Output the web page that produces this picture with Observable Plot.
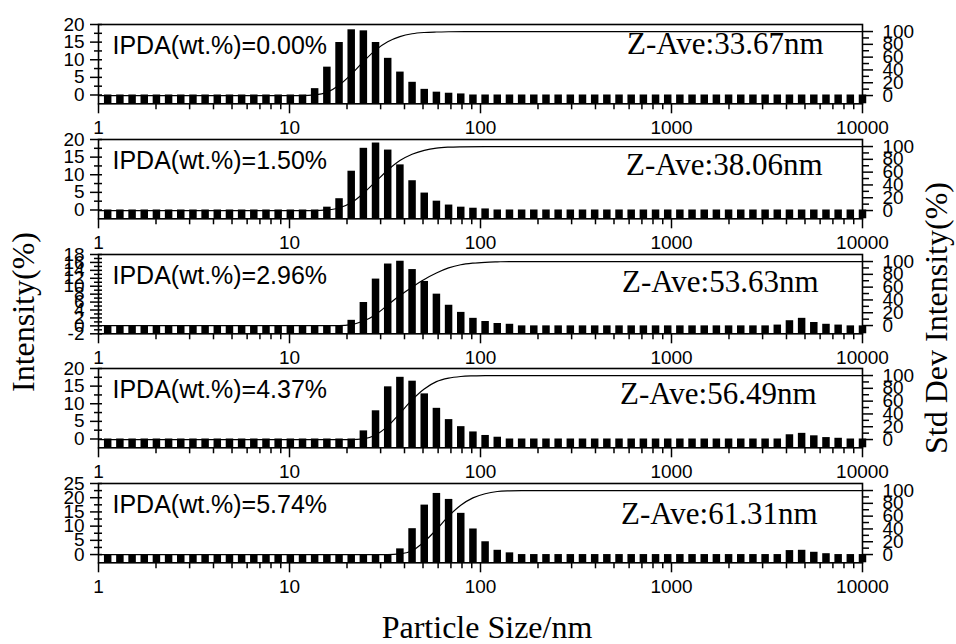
<!DOCTYPE html>
<html>
<head>
<meta charset="utf-8">
<script src="https://cdn.jsdelivr.net/npm/d3@7"></script>
<script src="https://cdn.jsdelivr.net/npm/@observablehq/plot@0.6"></script>
<style>
  body { margin: 0; background: #fff; }
  #chart { position: relative; width: 956px; height: 644px; background: #fff; overflow: hidden; }
  #chart svg { position: absolute; left: 0; }
</style>
</head>
<body>
<div id="chart"></div>
<script>
// Size classes (nm) of the DLS intensity distribution
const sizes = [
  1.117, 1.294, 1.499, 1.736, 2.010, 2.328, 2.696, 3.122, 3.615, 4.187, 4.849, 5.615, 6.503, 7.531, 8.721, 10.10,
  11.70, 13.54, 15.69, 18.17, 21.04, 24.36, 28.21, 32.67, 37.84, 43.82, 50.75, 58.77, 68.06, 78.82, 91.28, 105.7,
  122.4, 141.8, 164.2, 190.1, 220.2, 255.0, 295.3, 342.0, 396.1, 458.7, 531.2, 615.1, 712.4, 825.0, 955.4, 1106,
  1281, 1484, 1718, 1990, 2305, 2669, 3091, 3580, 4145, 4801, 5560, 6439, 7456, 8635, 10000
];

const sampleLabels = ["IPDA(wt.%)=0.00%", "IPDA(wt.%)=1.50%", "IPDA(wt.%)=2.96%", "IPDA(wt.%)=4.37%", "IPDA(wt.%)=5.74%"];
const zAverages = ["Z-Ave:33.67nm", "Z-Ave:38.06nm", "Z-Ave:53.63nm", "Z-Ave:56.49nm", "Z-Ave:61.31nm"];

// Intensity (%) per size class
const intensity000 = [
  0,0,0,0,0,0,0,0,0,0,0,0,0,0,0,0,
  0,1.8,7.9,14.9,18.5,18.2,14.9,10.4,6.5,3.6,1.6,0.8,0.5,0.3,0,0,
  0,0,0,0,0,0,0,0,0,0,0,0,0,0,0,0,
  0,0,0,0,0,0,0,0,0,0,0,0,0,0,0
];
const intensity150 = [
  0,0,0,0,0,0,0,0,0,0,0,0,0,0,0,0,
  0,0,0.8,3.2,11,17.5,19,17,12.8,8.3,4.8,2.5,1.4,0.8,0.5,0.3,
  0,0,0,0,0,0,0,0,0,0,0,0,0,0,0,0,
  0,0,0,0,0,0,0,0,0,0,0,0,0,0,0
];
const intensity296 = [
  0,0,0,0,0,0,0,0,0,0,0,0,0,0,0,0,
  0,0,0,0,1.4,5.9,11.8,15.6,16.3,14.2,11.2,8.0,5.2,3.4,1.9,1.1,
  0.6,0.4,0,0,0,0,0,0,0,0,0,0,0,0,0,0,
  0,0,0,0,0,0,0,0.2,1.3,1.9,0.85,0.4,0.2,0,0
];
const intensity437 = [
  0,0,0,0,0,0,0,0,0,0,0,0,0,0,0,0,
  0,0,0,0,0,2.3,8.0,14.8,17.5,16.4,12.8,8.7,5.5,3.5,2.0,1.0,
  0.5,0,0,0,0,0,0,0,0,0,0,0,0,0,0,0,
  0,0,0,0,0,0,0,0,1.2,1.6,0.9,0.4,0.2,0,0
];
const intensity574 = [
  0,0,0,0,0,0,0,0,0,0,0,0,0,0,0,0,
  0,0,0,0,0,0,0,0,2.0,9.1,17.4,21.5,19.4,14.5,9.0,4.5,
  1.5,0.6,0,0,0,0,0,0,0,0,0,0,0,0,0,0,
  0,0,0,0,0,0,0,0,1.4,1.5,0.8,0.3,0,0,0
];

// Cumulative curves (size nm, percent) for the right axis
const cumSize000 = [1, 11.70, 13.54, 15.69, 18.17, 21.04, 24.36, 28.21, 32.67, 37.84, 43.82, 50.75, 58.77, 68.06, 91.28, 10000];
const cumPct000  = [0, 0, 1, 5, 16, 33, 53, 71, 84, 92, 96.5, 98.5, 99.3, 99.7, 100, 100];
const cumSize150 = [1, 13.54, 15.69, 18.17, 21.04, 24.36, 28.21, 32.67, 37.84, 43.82, 50.75, 58.77, 68.06, 78.82, 105.7, 10000];
const cumPct150  = [0, 0, 1, 4, 12, 27, 45, 63, 78, 88, 94, 97.5, 99, 99.6, 100, 100];
const cumSize296 = [1, 18.17, 21.04, 24.36, 28.21, 32.67, 37.84, 43.82, 50.75, 58.77, 68.06, 78.82, 91.28, 105.7, 122.4, 141.8, 10000];
const cumPct296  = [0, 0, 1.5, 7, 17, 32, 47, 60, 72, 82, 90, 95, 97.5, 98.8, 99.5, 100, 100];
const cumSize437 = [1, 21.04, 24.36, 28.21, 32.67, 37.84, 43.82, 50.75, 58.77, 68.06, 78.82, 91.28, 105.7, 10000];
const cumPct437  = [0, 0, 1, 7, 21, 41, 62, 79, 90.5, 96, 98.5, 99.5, 100, 100];
const cumSize574 = [1, 32.67, 37.84, 43.82, 50.75, 58.77, 68.06, 78.82, 91.28, 105.7, 122.4, 141.8, 164.2, 10000];
const cumPct574  = [0, 0, 1, 6, 20, 39, 60, 77, 88.5, 95, 98.5, 99.6, 100, 100];

// Axis ticks
const xMajor = [1, 10, 100, 1000, 10000];
const xMinor = [2,3,4,5,6,7,8,9, 20,30,40,50,60,70,80,90, 200,300,400,500,600,700,800,900, 2000,3000,4000,5000,6000,7000,8000,9000];
const yMajor20 = [0, 5, 10, 15, 20];
const yMinor20 = [2.5, 7.5, 12.5, 17.5];
const yMajor18 = [-2, 0, 2, 4, 6, 8, 10, 12, 14, 16, 18];
const yMinor18 = [-1, 1, 3, 5, 7, 9, 11, 13, 15, 17];
const yMajor25 = [0, 5, 10, 15, 20, 25];
const yMinor25 = [2.5, 7.5, 12.5, 17.5, 22.5];
const rightMajor = [0, 20, 40, 60, 80, 100];
const rightMinor = [10, 30, 50, 70, 90];

const panels = [
  {label: sampleLabels[0], zave: zAverages[0], values: intensity000, cumSize: cumSize000, cumPct: cumPct000, yDomain: [-2.5, 20], yMajor: yMajor20, yMinor: yMinor20},
  {label: sampleLabels[1], zave: zAverages[1], values: intensity150, cumSize: cumSize150, cumPct: cumPct150, yDomain: [-2.5, 20], yMajor: yMajor20, yMinor: yMinor20},
  {label: sampleLabels[2], zave: zAverages[2], values: intensity296, cumSize: cumSize296, cumPct: cumPct296, yDomain: [-2, 18], yMajor: yMajor18, yMinor: yMinor18},
  {label: sampleLabels[3], zave: zAverages[3], values: intensity437, cumSize: cumSize437, cumPct: cumPct437, yDomain: [-2.5, 20], yMajor: yMajor20, yMinor: yMinor20},
  {label: sampleLabels[4], zave: zAverages[4], values: intensity574, cumSize: cumSize574, cumPct: cumPct574, yDomain: [-2.9, 25], yMajor: yMajor25, yMinor: yMinor25}
];

// Layout
const PANEL_TOP0 = 24, PANEL_STEP = 114.8, PANEL_H = 79.3, MT = 8, MB = 38;
const zaveDx = [-39, -40, -44, -46, -45];
const zaveDy = [30, 36, 38, 36, 41];
const sans = "'Liberation Sans', Arial, Helvetica, sans-serif";
const serif = "'Liberation Serif', 'Times New Roman', Times, serif";
const rightDomain = [-12.9, 111];

const chart = document.getElementById("chart");

panels.forEach((p, i) => {
  const rows = sizes.map((s, k) => ({size: s, value: p.values[k]}));
  const cum = p.cumSize.map((s, k) => ({size: s, pct: p.cumPct[k]}));
  const common = {
    width: 956, height: MT + PANEL_H + MB,
    marginLeft: 98, marginRight: 94, marginTop: MT, marginBottom: MB,
    style: {background: "transparent", overflow: "visible", color: "black", fontFamily: sans}
  };
  const xScale = {type: "log", domain: [1, 10000], axis: null, label: null};
  const top = PANEL_TOP0 + i * PANEL_STEP - MT;

  const bars = Plot.plot({
    ...common,
    x: xScale,
    y: {domain: p.yDomain, axis: null, label: null},
    marks: [
      Plot.ruleX(rows, {x: "size", y1: p.yDomain[0], y2: "value", stroke: "black", strokeWidth: 7.5}),
      Plot.frame({stroke: "black", strokeWidth: 1.6}),
      Plot.axisX(xMajor, {tickSize: 10, tickPadding: 7, strokeWidth: 1.5, tickFormat: d => String(d), fontSize: 19, label: null}),
      Plot.axisX(xMinor, {tickSize: 6, strokeWidth: 1.5, tickFormat: () => "", label: null}),
      Plot.axisY(p.yMajor, {tickSize: 8, tickPadding: 6, strokeWidth: 1.5, tickFormat: d => String(d), fontSize: 19, label: null}),
      Plot.axisY(p.yMinor, {tickSize: 4, strokeWidth: 1.5, tickFormat: () => "", label: null}),
      Plot.axisY([...p.yMajor, ...p.yMinor], {tickSize: -4, strokeWidth: 1.5, tickFormat: () => "", label: null}),
      Plot.text([p.label], {text: d => d, frameAnchor: "top-left", textAnchor: "start", lineAnchor: "bottom", dx: 14, dy: 30, fontSize: 25, fill: "black"}),
      Plot.text([p.zave], {text: d => d, frameAnchor: "top-right", textAnchor: "end", lineAnchor: "bottom", dx: zaveDx[i], dy: zaveDy[i], fontSize: 31, fontFamily: serif, fill: "black"})
    ]
  });
  bars.style.top = top + "px";
  chart.appendChild(bars);

  const cumulative = Plot.plot({
    ...common,
    x: xScale,
    y: {domain: rightDomain, axis: null, label: null},
    marks: [
      Plot.line(cum, {x: "size", y: "pct", curve: "monotone-x", stroke: "black", strokeWidth: 1.2, clip: true}),
      Plot.axisY(rightMajor, {anchor: "right", tickSize: 10, tickPadding: 10, strokeWidth: 1.5, tickFormat: d => String(d), fontSize: 19, label: null}),
      Plot.axisY(rightMinor, {anchor: "right", tickSize: 6, strokeWidth: 1.5, tickFormat: () => "", label: null})
    ]
  });
  cumulative.style.top = top + "px";
  chart.appendChild(cumulative);
});

// Axis titles
const titles = d3.create("svg")
  .attr("width", 956).attr("height", 644)
  .style("top", "0px")
  .style("pointer-events", "none");
const tg = titles.append("g")
  .attr("font-family", serif)
  .attr("font-size", 32)
  .attr("fill", "black")
  .attr("text-anchor", "middle");
tg.append("text").attr("transform", "translate(34,312) rotate(-90)").text("Intensity(%)");
tg.append("text").attr("transform", "translate(947,318) rotate(-90)").text("Std Dev Intensity(%)");
tg.append("text").attr("transform", "translate(487,638)").text("Particle Size/nm");
chart.appendChild(titles.node());
</script>
</body>
</html>
